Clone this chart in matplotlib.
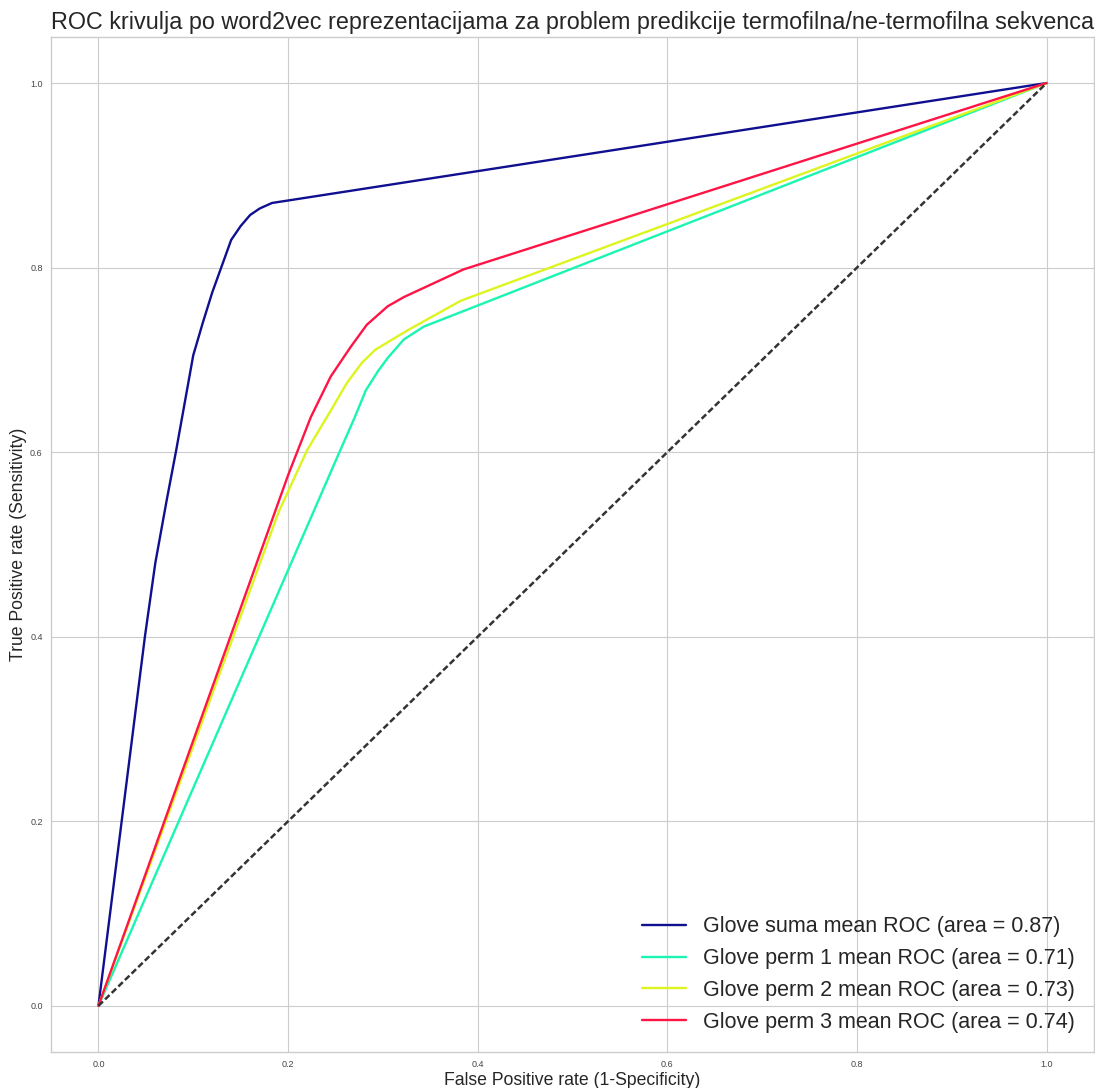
import matplotlib
matplotlib.use('Agg')
import matplotlib.pyplot as plt

# mean ROC curves
suma_fpr = [0.0, 0.049, 0.06, 0.072, 0.082, 0.10, 0.11, 0.12, 0.14, 0.15, 0.16, 0.17, 0.183, 1.0]
suma_tpr = [0.0, 0.40, 0.48, 0.548, 0.602, 0.705, 0.74, 0.773, 0.83, 0.845, 0.857, 0.864, 0.870, 1.0]

perm1_fpr = [0.0, 0.255, 0.270, 0.282, 0.295, 0.305, 0.322, 0.343, 1.0]
perm1_tpr = [0.0, 0.602, 0.637, 0.667, 0.688, 0.702, 0.722, 0.736, 1.0]

perm2_fpr = [0.0, 0.19, 0.22, 0.245, 0.262, 0.278, 0.292, 0.326, 0.382, 1.0]
perm2_tpr = [0.0, 0.535, 0.602, 0.645, 0.675, 0.697, 0.711, 0.732, 0.764, 1.0]

perm3_fpr = [0.0, 0.20, 0.224, 0.245, 0.266, 0.283, 0.305, 0.322, 0.385, 1.0]
perm3_tpr = [0.0, 0.575, 0.638, 0.682, 0.714, 0.738, 0.758, 0.768, 0.798, 1.0]

labels = ['Glove suma mean ROC (area = 0.87)',
          'Glove perm 1 mean ROC (area = 0.71)',
          'Glove perm 2 mean ROC (area = 0.73)',
          'Glove perm 3 mean ROC (area = 0.74)']
colors = ['#0f0f8f', '#1af5b2', '#ddf51f', '#ff1446']
ticks = [0.0, 0.2, 0.4, 0.6, 0.8, 1.0]

plt.style.use('seaborn-v0_8-whitegrid')
plt.rcParams['font.family'] = ['Liberation Sans', 'DejaVu Sans']

fig = plt.figure(figsize=(10.95, 10.88), dpi=100)
ax = fig.add_axes([0.0466, 0.0331, 0.9525, 0.933])

curves = [(suma_fpr, suma_tpr), (perm1_fpr, perm1_tpr),
          (perm2_fpr, perm2_tpr), (perm3_fpr, perm3_tpr)]
for (fpr, tpr), lab, col in zip(curves, labels, colors):
    ax.plot(fpr, tpr, color=col, lw=1.7, label=lab)

# chance line
ax.plot([0, 1], [0, 1], color='#333333', lw=1.8, linestyle=(0, (2.5, 1.2)))

ax.set_xlim(-0.05, 1.05)
ax.set_ylim(-0.05, 1.05)
ax.set_xticks(ticks)
ax.set_yticks(ticks)
ax.tick_params(axis='both', labelsize=6.5, colors='#444444', pad=6)

ax.set_title('ROC krivulja po word2vec reprezentacijama za problem predikcije termofilna/ne-termofilna sekvenca',
             fontsize=16.85, color='#262626', pad=6)
ax.set_xlabel('False Positive rate (1-Specificity)', fontsize=12.7, color='#262626', labelpad=2)
ax.set_ylabel('True Positive rate (Sensitivity)', fontsize=12.7, color='#262626', labelpad=2)

ax.legend(loc='lower right', fontsize=15.5, frameon=False, handlelength=2.0,
          handletextpad=0.8, labelspacing=0.5)

fig.savefig('out.png', dpi=100)
